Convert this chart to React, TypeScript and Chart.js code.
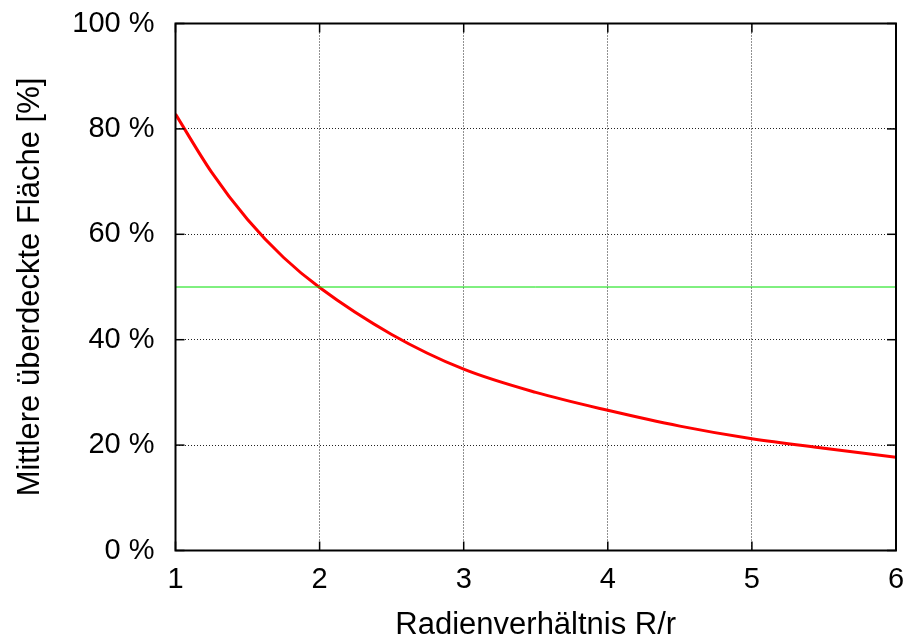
import React, { useEffect, useRef } from "react";
import { Chart, registerables } from "chart.js";

Chart.register(...registerables);

const ratio = [1, 1.25, 1.5, 1.75, 2, 2.5, 3, 3.5, 4, 4.5, 5, 5.5, 6];
const coverage = [82.8, 71.8, 62.8, 55.6, 49.9, 41.0, 34.4, 30.0, 26.6, 23.6, 21.2, 19.4, 17.7];
const refX = [1, 6];
const refY = [50, 50];
const xTicks = [1, 2, 3, 4, 5, 6];
const yTicks = [0, 20, 40, 60, 80, 100];
const xTitle = "Radienverhältnis R/r";
const yTitle = "Mittlere überdeckte Fläche [%]";

const FONT = "'Liberation Sans', Arial, Helvetica, sans-serif";
const TICK_SIZE = 29;
const TITLE_SIZE = 31;

const framePlugin = {
  id: "frame",
  afterDatasetsDraw(chart: any) {
    const { ctx, chartArea, scales } = chart;
    const { left, right, top, bottom } = chartArea;
    const x = scales.x;
    const y = scales.y;
    ctx.save();
    ctx.strokeStyle = "#000";
    ctx.lineWidth = 1.5;
    const seg = (x1: number, y1: number, x2: number, y2: number) => {
      ctx.beginPath();
      ctx.moveTo(x1, y1);
      ctx.lineTo(x2, y2);
      ctx.stroke();
    };
    yTicks.forEach((v) => {
      const py = y.getPixelForValue(v);
      seg(left, py, left + 9, py);
      seg(right, py, right - 9, py);
    });
    xTicks.forEach((v) => {
      const px = x.getPixelForValue(v);
      seg(px, bottom, px, bottom - 9);
      seg(px, top, px, top + 9);
    });
    ctx.lineWidth = 2;
    ctx.strokeRect(left, top, right - left, bottom - top);
    ctx.restore();
  },
  afterDraw(chart: any) {
    const { ctx, chartArea } = chart;
    ctx.save();
    ctx.fillStyle = "#000";
    ctx.font = `${TITLE_SIZE}px ${FONT}`;
    ctx.textAlign = "center";
    ctx.textBaseline = "alphabetic";
    ctx.fillText(xTitle, (chartArea.left + chartArea.right) / 2, 634);
    ctx.translate(39, (chartArea.top + chartArea.bottom) / 2);
    ctx.rotate(-Math.PI / 2);
    ctx.fillText(yTitle, 0, 0);
    ctx.restore();
  },
};

export default function App() {
  const ref = useRef<HTMLCanvasElement | null>(null);
  useEffect(() => {
    const canvas = ref.current;
    if (!canvas) return;
    const chart = new Chart(canvas, {
      type: "line",
      data: {
        datasets: [
          {
            data: refX.map((v, i) => ({ x: v, y: refY[i] })),
            borderColor: "#00e000",
            borderWidth: 1,
            pointRadius: 0,
            fill: false,
          },
          {
            data: ratio.map((v, i) => ({ x: v, y: coverage[i] })),
            borderColor: "#ff0000",
            borderWidth: 3,
            pointRadius: 0,
            cubicInterpolationMode: "monotone",
            fill: false,
          },
        ],
      },
      options: {
        animation: false,
        responsive: false,
        maintainAspectRatio: false,
        layout: { padding: { top: 23.5, right: 14, left: 0, bottom: 0 } },
        plugins: { legend: { display: false }, tooltip: { enabled: false } },
        scales: {
          x: {
            type: "linear",
            min: 1,
            max: 6,
            afterBuildTicks: (s: any) => {
              s.ticks = xTicks.map((v) => ({ value: v }));
            },
            afterFit: (s: any) => {
              s.height = 91.5;
              s.paddingLeft = 0;
              s.paddingRight = 0;
            },
            ticks: {
              color: "#000",
              font: { family: FONT, size: TICK_SIZE },
              padding: 12,
              maxRotation: 0,
            },
            grid: {
              color: "#222",
              lineWidth: 1,
              drawTicks: false,
            },
            border: { display: false, dash: [1, 2] },
          },
          y: {
            type: "linear",
            min: 0,
            max: 100,
            afterBuildTicks: (s: any) => {
              s.ticks = yTicks.map((v) => ({ value: v }));
            },
            afterFit: (s: any) => {
              s.width = 175.5;
              s.paddingTop = 0;
              s.paddingBottom = 0;
            },
            ticks: {
              color: "#000",
              font: { family: FONT, size: TICK_SIZE },
              padding: 21,
              callback: (v: any) => `${v} %`,
            },
            grid: {
              color: "#222",
              lineWidth: 1,
              drawTicks: false,
            },
            border: { display: false, dash: [1, 2] },
          },
        },
      },
      plugins: [framePlugin],
    } as any);
    return () => chart.destroy();
  }, []);
  return (
    <div style={{ position: "fixed", left: 0, top: 0, width: 910, height: 642, background: "#fff" }}>
      <canvas ref={ref} width={910} height={642} style={{ width: 910, height: 642, display: "block" }} />
    </div>
  );
}
